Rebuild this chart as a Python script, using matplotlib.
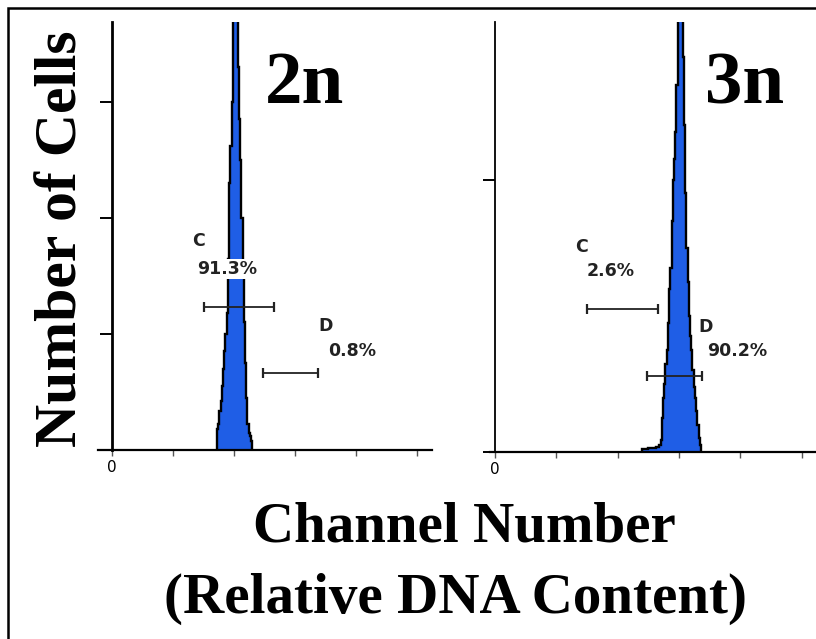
import numpy as np
import matplotlib
matplotlib.use("Agg")
import matplotlib.pyplot as plt
from matplotlib.patches import Rectangle

# DNA histogram, 2n sample (channel bins of 4, counts per bin)
edges_2n = np.arange(344, 461, 4)
counts_2n = [18, 22, 34, 42, 55, 70, 85, 100, 118, 165, 230, 262, 300, 420,
             700, 900, 650, 330, 285, 250, 200, 150, 110, 75, 45, 22, 15, 12, 8]

# DNA histogram, 3n sample
edges_3n = np.arange(480, 673, 4)
counts_3n = [2, 2, 2, 2, 2, 3, 3, 3, 3, 3, 3, 4, 4, 4, 5, 9,
             25, 40, 50, 65, 75, 95, 120, 135, 170, 200, 215, 235, 270, 320,
             500, 650, 520, 290, 240, 190, 150, 125, 100, 85, 75, 60, 48, 40,
             30, 20, 10, 5]

# gate markers (channel ranges) and percentages
gate_c = [300, 532]
gate_d = [496, 674]
pct_2n = ["91.3%", "0.8%"]
pct_3n = ["2.6%", "90.2%"]

x_ticks = [0, 200, 400, 600, 800, 1000]
x_ticklabels = ["0", "", "", "", "", ""]

W, H = 816, 639
fig = plt.figure(figsize=(W / 100, H / 100), dpi=100)
fig.patch.set_facecolor("white")

blue = "#1f5ee6"


def px_axes(x0, y0, x1, y1):
    return fig.add_axes([x0 / W, 1 - y1 / H, (x1 - x0) / W, (y1 - y0) / H])


def setup(ax, xlim, ylim, yticks, lw):
    ax.set_xlim(*xlim)
    ax.set_ylim(*ylim)
    for s in ["top", "right"]:
        ax.spines[s].set_visible(False)
    ax.spines["left"].set_position(("data", 0))
    ax.spines["left"].set_linewidth(lw)
    ax.spines["bottom"].set_linewidth(1.6)
    ax.set_yticks(yticks)
    ax.set_yticklabels([])
    ax.tick_params(axis="y", direction="out", length=9, width=1.4, color="black")
    ax.set_xticks(x_ticks)
    ax.set_xticklabels(x_ticklabels, fontsize=11)
    ax.tick_params(axis="x", direction="out", length=4, width=1.0, color="#555555", pad=3)
    ax.set_facecolor("none")


def gate(ax, rng, y):
    ax.plot(rng, [y, y], color="#222222", lw=1.3, marker="|", markersize=7,
            markeredgewidth=1.6, clip_on=False, zorder=4)


lab = dict(fontsize=12.5, fontweight="bold", family="DejaVu Sans", color="#222222",
           ha="left", va="center", zorder=5)

# left panel: 2n
ax1 = px_axes(98, 22, 432, 450)
setup(ax1, (-46, 1049), (0, 369), [0, 100, 200, 300], 2.0)
ax1.stairs(counts_2n, edges_2n, fill=True, color=blue)
ax1.stairs(counts_2n, edges_2n, color="black", lw=1.7, baseline=0)
gate(ax1, gate_c, 123)
gate(ax1, gate_d, 66)
ax1.text(262, 180, "C", **lab)
ax1.text(279, 156, pct_2n[0], bbox=dict(facecolor="white", edgecolor="none", pad=0.5), **lab)
ax1.text(675, 107, "D", **lab)
ax1.text(708, 85, pct_2n[1], **lab)

# right panel: 3n
ax2 = px_axes(490, 22, 816, 452)
setup(ax2, (-16, 1047), (0, 316), [0, 200], 1.3)
ax2.stairs(counts_3n, edges_3n, fill=True, color=blue)
ax2.stairs(counts_3n, edges_3n, color="black", lw=1.7, baseline=0)
gate(ax2, gate_c, 105)
gate(ax2, gate_d, 56)
ax2.text(261, 151, "C", **lab)
ax2.text(300, 133, pct_3n[0], **lab)
ax2.text(662, 92, "D", **lab)
ax2.text(692, 74, pct_3n[1], **lab)

serif = dict(family="Liberation Serif", fontweight="bold", color="black")
fig.text(304 / W, 1 - 103 / H, "2n", fontsize=54, ha="center", va="baseline", **serif)
fig.text(745 / W, 1 - 103 / H, "3n", fontsize=54, ha="center", va="baseline", **serif)
fig.text(77 / W, 1 - 239 / H, "Number of Cells", fontsize=43, rotation=90,
         rotation_mode="anchor", ha="center", va="baseline", **serif)
fig.text(464 / W, 1 - 541 / H, "Channel Number", fontsize=41, ha="center",
         va="baseline", **serif)
fig.text(456 / W, 1 - 613 / H, "(Relative DNA Content)", fontsize=41, ha="center",
         va="baseline", **serif)

# outer frame (only left/top edges fall inside the image)
fig.add_artist(Rectangle((8 / W, -0.1), 1.2, 1.1 - 8 / H, transform=fig.transFigure,
                         fill=False, edgecolor="black", lw=1.8))

fig.savefig("out.png", dpi=100)
